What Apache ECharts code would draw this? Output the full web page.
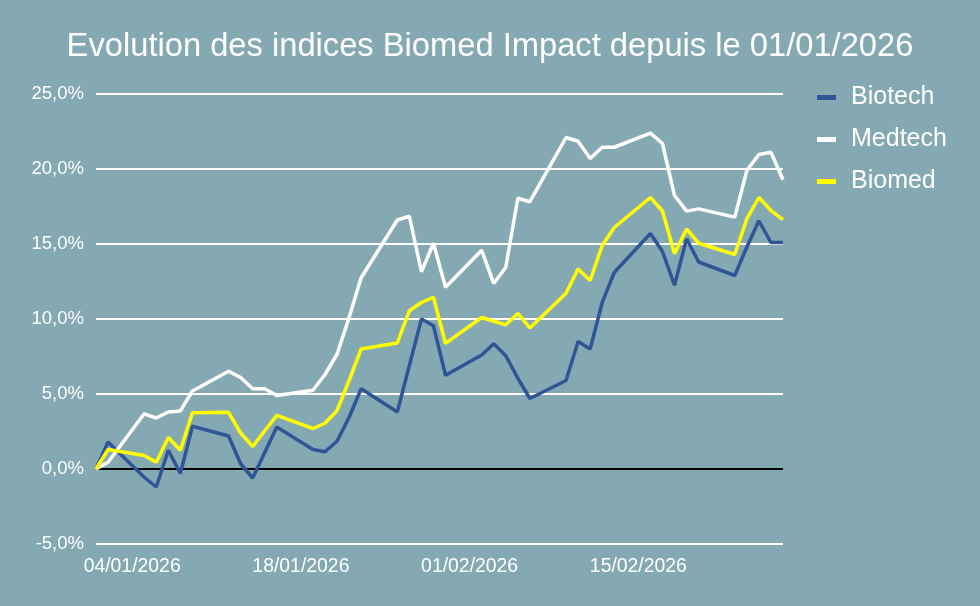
<!DOCTYPE html>
<html>
<head>
<meta charset="utf-8">
<script src="https://cdn.jsdelivr.net/npm/echarts@6.0.0/dist/echarts.min.js"></script>
<style>
html,body{margin:0;padding:0;background:#84A9B2;}
#chart{width:980px;height:606px;}
</style>
</head>
<body>
<div id="chart"></div>
<script>
var dates = [
  '2026-01-01','2026-01-02',
  '2026-01-05','2026-01-06','2026-01-07','2026-01-08','2026-01-09',
  '2026-01-12','2026-01-13','2026-01-14','2026-01-15','2026-01-16',
  '2026-01-19','2026-01-20','2026-01-21','2026-01-22','2026-01-23',
  '2026-01-26','2026-01-27','2026-01-28','2026-01-29','2026-01-30',
  '2026-02-02','2026-02-03','2026-02-04','2026-02-05','2026-02-06',
  '2026-02-09','2026-02-10','2026-02-11','2026-02-12','2026-02-13',
  '2026-02-16','2026-02-17','2026-02-18','2026-02-19','2026-02-20',
  '2026-02-23','2026-02-24','2026-02-25','2026-02-26','2026-02-27'
];
var biotech = [
  0, 1.8,
  -0.55, -1.2, 1.25, -0.3, 2.85,
  2.2, 0.35, -0.6, 1.1, 2.8,
  1.3, 1.15, 1.85, 3.45, 5.35,
  3.8, 6.9, 10.0, 9.55, 6.25,
  7.6, 8.35, 7.55, 6.05, 4.7,
  5.9, 8.5, 8.0, 11.1, 13.1,
  15.7, 14.5, 12.25, 15.35, 13.8,
  12.9, 14.8, 16.55, 15.1, 15.1
];
var medtech = [
  0, 0.45,
  3.68, 3.4, 3.8, 3.87, 5.2,
  6.52, 6.1, 5.35, 5.35, 4.9,
  5.25, 6.3, 7.65, 10.1, 12.75,
  16.6, 16.85, 13.15, 15.05, 12.12,
  14.58, 12.37, 13.45, 18.05, 17.82,
  22.1, 21.85, 20.7, 21.45, 21.45,
  22.39, 21.7, 18.23, 17.19, 17.34,
  16.79, 19.9, 20.97, 21.12, 19.28
];
var biomed = [
  0, 1.3,
  0.9, 0.45, 2.1, 1.25, 3.75,
  3.78, 2.4, 1.5, 2.55, 3.57,
  2.7, 3.05, 3.9, 5.9, 8.0,
  8.4, 10.55, 11.1, 11.45, 8.37,
  10.1, 9.85, 9.62, 10.37, 9.4,
  11.72, 13.34, 12.57, 14.9, 16.1,
  18.1, 17.2, 14.35, 16.0, 15.05,
  14.3, 16.68, 18.1, 17.23, 16.63
];
var xTickLabels = ['2026-01-04','2026-01-18','2026-02-01','2026-02-15'];
var yTicks = [-5, 0, 5, 10, 15, 20, 25];

var DAY = 86400000;
function utc(s){ var p = s.split('-'); return Date.UTC(+p[0], +p[1]-1, +p[2]); }
var base = utc(dates[0]);
function dayIdx(s){ return Math.round((utc(s) - base) / DAY); }
function pad(n){ return (n<10?'0':'')+n; }
function fmtDay(v){ var d = new Date(base + Math.round(v) * DAY); return pad(d.getUTCDate())+'/'+pad(d.getUTCMonth()+1)+'/'+d.getUTCFullYear(); }
function pairs(vals){ return dates.map(function(d,i){ return [dayIdx(d), vals[i]]; }); }

var FONT = "'Liberation Sans', Arial, sans-serif";
var chart = echarts.init(document.getElementById('chart'), null, {renderer:'canvas'});
chart.setOption({
  backgroundColor: '#84A9B2',
  animation: false,
  title: {
    text: 'Evolution des indices Biomed Impact depuis le 01/01/2026',
    left: 'center', top: 25,
    textStyle: {color:'#ffffff', fontSize: 32.7, fontWeight:'normal', fontFamily: FONT}
  },
  legend: {
    orient: 'vertical', left: 812, top: 80,
    itemWidth: 19, itemHeight: 5, itemGap: 17,
    icon: 'rect',
    textStyle: {color:'#ffffff', fontSize: 25, fontFamily: FONT, padding:[0,0,0,10]},
    data: ['Biotech','Medtech','Biomed']
  },
  grid: {left: 96, right: 197, top: 94, bottom: 62, containLabel: false},
  xAxis: {
    type: 'value',
    min: 0, max: dayIdx(dates[dates.length-1]),
    axisLine: {show:false}, axisTick: {show:false}, splitLine: {show:false},
    axisLabel: {
      color:'#ffffff', fontSize: 19.4, fontFamily: FONT, margin: 13,
      showMinLabel: true, showMaxLabel: true,
      customValues: xTickLabels.map(dayIdx),
      formatter: function(v){ return fmtDay(v); }
    }
  },
  yAxis: {
    type: 'value', min: yTicks[0], max: yTicks[yTicks.length-1], interval: 5,
    axisLine: {show:false}, axisTick: {show:false},
    axisLabel: {
      color:'#ffffff', fontSize: 18.5, fontFamily: FONT, margin: 12,
      formatter: function(v){ return v.toFixed(1).replace('.', ',') + '%'; }
    },
    splitLine: {show:true, lineStyle: {color: yTicks.map(function(t){ return t===0 ? '#000000' : '#ffffff'; }), width: 1.8}}
  },
  series: [
    {name:'Biotech', type:'line', data: pairs(biotech), showSymbol:false, symbol:'none',
     lineStyle:{color:'#2F5597', width:3.5}, itemStyle:{color:'#2F5597'}},
    {name:'Medtech', type:'line', data: pairs(medtech), showSymbol:false, symbol:'none',
     lineStyle:{color:'#ffffff', width:3.5}, itemStyle:{color:'#ffffff'}},
    {name:'Biomed', type:'line', data: pairs(biomed), showSymbol:false, symbol:'none',
     lineStyle:{color:'#FFFF00', width:3.5}, itemStyle:{color:'#FFFF00'}}
  ]
});
</script>
</body>
</html>
